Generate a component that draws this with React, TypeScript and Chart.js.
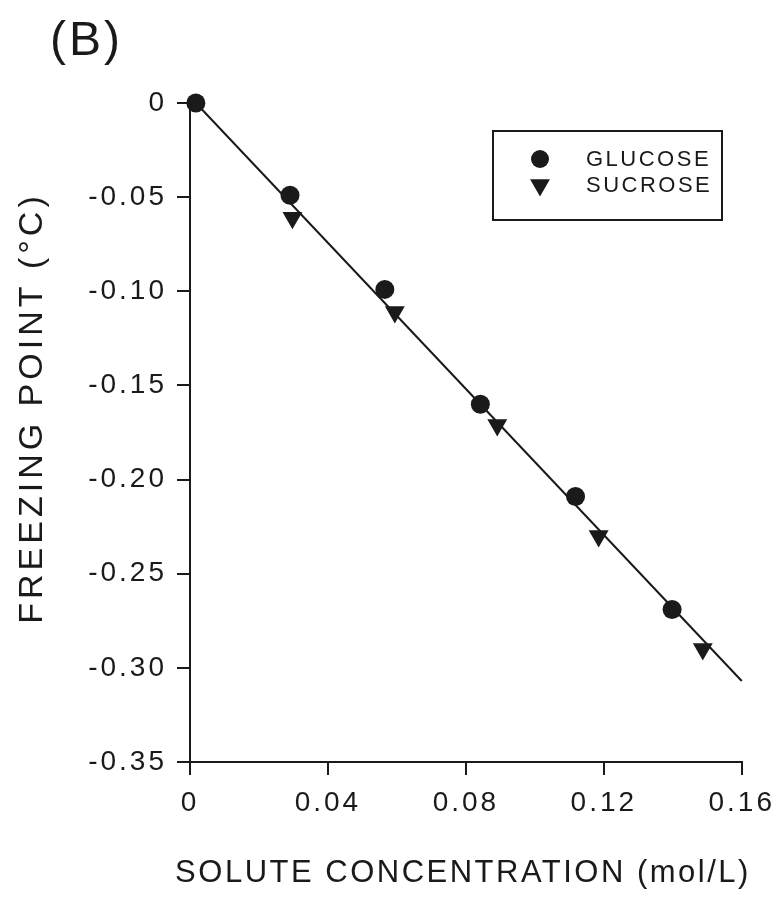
import React, { useEffect, useRef } from "react";
import { Chart, registerables } from "chart.js";

Chart.register(...registerables);

const FONT = "'Liberation Sans', Arial, sans-serif";
const INK = "#1a1a1a";

const panelLabel = "(B)";
const xTitle = "SOLUTE CONCENTRATION (mol/L)";
const yTitle = "FREEZING POINT (°C)";
const seriesNames = ["GLUCOSE", "SUCROSE"];

const glucoseConc = [0.0017, 0.029, 0.0565, 0.0842, 0.1118, 0.1398];
const glucoseFreeze = [0, -0.049, -0.099, -0.16, -0.209, -0.269];
const sucroseConc = [0.0297, 0.0594, 0.0891, 0.1185, 0.1487];
const sucroseFreeze = [-0.061, -0.111, -0.171, -0.23, -0.29];
const fitConc = [0.0017, 0.16];
const fitFreeze = [0, -0.307];

const xTickValues = [0, 0.04, 0.08, 0.12, 0.16];
const xTickLabels = ["0", "0.04", "0.08", "0.12", "0.16"];
const yTickValues = [0, -0.05, -0.1, -0.15, -0.2, -0.25, -0.3, -0.35];
const yTickLabels = ["0", "-0.05", "-0.10", "-0.15", "-0.20", "-0.25", "-0.30", "-0.35"];

function labelFor(values: number[], labels: string[], v: number) {
  const i = values.findIndex((t) => Math.abs(t - v) < 1e-9);
  return i >= 0 ? labels[i] : "";
}

function pts(xs: number[], ys: number[]) {
  return xs.map((x, i) => ({ x, y: ys[i] }));
}

export default function App() {
  const ref = useRef<HTMLCanvasElement>(null);

  useEffect(() => {
    const canvas = ref.current!;
    const decor = {
      id: "decor",
      beforeDraw(chart: any) {
        const ctx = chart.ctx;
        ctx.save();
        ctx.fillStyle = "#fff";
        ctx.fillRect(0, 0, chart.width, chart.height);
        ctx.restore();
        ctx.letterSpacing = "3px";
      },
      afterDatasetsDraw(chart: any) {
        chart.ctx.letterSpacing = "3px";
      },
      afterDraw(chart: any) {
        const ctx = chart.ctx;
        ctx.save();
        ctx.fillStyle = INK;
        // panel label
        ctx.letterSpacing = "3px";
        ctx.font = `48px ${FONT}`;
        ctx.textAlign = "left";
        ctx.textBaseline = "middle";
        ctx.fillText(panelLabel, 50, 42);
        // x-axis title
        ctx.textAlign = "center";
        ctx.letterSpacing = "2.5px";
        ctx.font = `31px ${FONT}`;
        ctx.fillText(xTitle, 463, 873);
        // y-axis title
        ctx.save();
        ctx.translate(33, 408);
        ctx.rotate(-Math.PI / 2);
        ctx.textAlign = "center";
        ctx.letterSpacing = "4px";
        ctx.font = `34px ${FONT}`;
        ctx.fillText(yTitle, 0, 0);
        ctx.restore();
        // legend
        ctx.strokeStyle = INK;
        ctx.lineWidth = 2;
        ctx.strokeRect(493, 131, 229, 89);
        ctx.beginPath();
        ctx.arc(540, 159, 9, 0, Math.PI * 2);
        ctx.fill();
        const r = 11.5;
        const ty = 185;
        ctx.beginPath();
        ctx.moveTo(540 - r * Math.sin(Math.PI / 3), ty - r / 2);
        ctx.lineTo(540 + r * Math.sin(Math.PI / 3), ty - r / 2);
        ctx.lineTo(540, ty + r);
        ctx.closePath();
        ctx.fill();
        ctx.letterSpacing = "2.5px";
        ctx.font = `22px ${FONT}`;
        ctx.textAlign = "left";
        ctx.fillText(seriesNames[0], 586, 160);
        ctx.fillText(seriesNames[1], 586, 186);
        ctx.restore();
        ctx.letterSpacing = "0px";
      },
    };

    const chart = new Chart(canvas, {
      type: "scatter",
      data: {
        datasets: [
          {
            label: "fit",
            data: pts(fitConc, fitFreeze),
            showLine: true,
            borderColor: INK,
            borderWidth: 2,
            pointRadius: 0,
            clip: false,
            order: 3,
          },
          {
            label: seriesNames[0],
            data: pts(glucoseConc, glucoseFreeze),
            pointStyle: "circle",
            pointRadius: 9.5,
            backgroundColor: INK,
            borderColor: INK,
            borderWidth: 0,
            clip: false,
            order: 1,
          },
          {
            label: seriesNames[1],
            data: pts(sucroseConc, sucroseFreeze),
            pointStyle: "triangle",
            pointRotation: 180,
            pointRadius: 11.5,
            backgroundColor: INK,
            borderColor: INK,
            borderWidth: 0,
            clip: false,
            order: 2,
          },
        ],
      } as any,
      options: {
        responsive: false,
        animation: false,
        devicePixelRatio: 1,
        layout: { padding: { top: 103, right: 23, left: 0, bottom: 0 } },
        plugins: {
          legend: { display: false },
          tooltip: { enabled: false },
          title: { display: false },
        },
        scales: {
          x: {
            type: "linear",
            min: 0,
            max: 0.16,
            afterFit: (s: any) => {
              s.height = 138;
            },
            afterBuildTicks: (s: any) => {
              s.ticks = xTickValues.map((v) => ({ value: v }));
            },
            ticks: {
              callback: (v: any) => labelFor(xTickValues, xTickLabels, Number(v)),
              font: { family: FONT, size: 28 },
              color: INK,
              padding: 11,
              maxRotation: 0,
              autoSkip: false,
              z: 1,
            },
            grid: { drawOnChartArea: false, drawTicks: true, tickLength: 13, color: INK, lineWidth: 2 },
            border: { display: true, color: INK, width: 2 },
            title: { display: false },
          },
          y: {
            type: "linear",
            min: -0.35,
            max: 0,
            afterFit: (s: any) => {
              s.width = 190;
            },
            afterBuildTicks: (s: any) => {
              s.ticks = yTickValues.map((v) => ({ value: v }));
            },
            ticks: {
              callback: (v: any) => labelFor(yTickValues, yTickLabels, Number(v)),
              font: { family: FONT, size: 28 },
              color: INK,
              padding: 10,
              autoSkip: false,
              z: 1,
            },
            grid: { drawOnChartArea: false, drawTicks: true, tickLength: 13, color: INK, lineWidth: 2 },
            border: { display: true, color: INK, width: 2 },
            title: { display: false },
          },
        },
      } as any,
      plugins: [decor],
    });
    return () => chart.destroy();
  }, []);

  return (
    <div style={{ position: "absolute", left: 0, top: 0, width: 780, height: 900, background: "#fff" }}>
      <canvas ref={ref} width={780} height={900} style={{ display: "block", width: 780, height: 900 }} />
    </div>
  );
}
